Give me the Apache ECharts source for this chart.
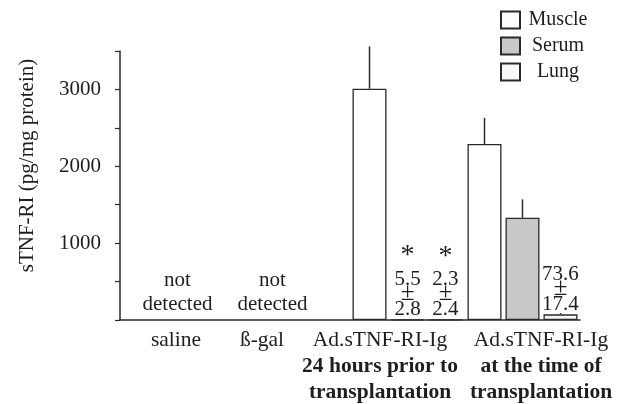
<!DOCTYPE html>
<html><head><meta charset="utf-8">
<script src="https://cdn.jsdelivr.net/npm/echarts@6/dist/echarts.min.js"></script>
<style>html,body{margin:0;padding:0;background:#fff}#c{width:624px;height:404px}</style>
</head><body><div id="c"></div>
<script>
// ---- data ----
const categories = [
  'saline',
  'ß-gal',
  'Ad.sTNF-RI-Ig\n24 hours prior to\ntransplantation',
  'Ad.sTNF-RI-Ig\nat the time of\ntransplantation'
];
const seriesNames = ['Muscle', 'Serum', 'Lung'];
const muscle = [null, null, 3010, 2290];
const serum = [null, null, 5.5, 1330];
const lung = [null, null, 2.3, 73.6];
const muscleErr = [null, null, 550, 340];
const serumErr = [null, null, 2.8, 240];
const lungErr = [null, null, 2.4, 17.4];
const serumSig = ['', '', '*', ''];
const lungSig = ['', '', '*', ''];
const yTickLabels = [1000, 2000, 3000];
const yAxisName = 'sTNF-RI (pg/mg protein)';
const notDetectedText = 'not\ndetected';

// ---- style ----
const FONT = 'Liberation Serif';
const INK = '#1e1e1e';
const LINE = '#2a2a2a';
const BAR_W = 34, BAR_GAP = 4;
const labelShift = [-1.5, -30.5, -27.5, 18.5];
const notDetShift = [0, -20, 0, 0];
const fills = ['#ffffff', '#c8c8c8', '#f7f7f7'];

const values = [muscle, serum, lung];
const errs = [muscleErr, serumErr, lungErr];
const sigs = [null, serumSig, lungSig];

const chart = echarts.init(document.getElementById('c'), null, {renderer: 'canvas'});

const barSeries = values.map((arr, k) => ({
  name: seriesNames[k],
  type: 'bar',
  barWidth: BAR_W,
  barGap: (BAR_GAP / BAR_W * 100).toFixed(2) + '%',
  itemStyle: {color: fills[k], borderColor: LINE, borderWidth: 1.3},
  emphasis: {disabled: true},
  data: arr.map((v, i) => ({
    value: v,
    label: {show: v != null && v < 100 && k > 0}
  })),
  label: {
    show: false,
    position: 'top',
    distance: 0,
    formatter: p => {
      const i = p.dataIndex;
      const s = sigs[k] && sigs[k][i] ? '{s|' + sigs[k][i] + '}\n' : '';
      return s + '{n1|' + p.value + '}\n{p|±}\n{n2|' + errs[k][i] + '}';
    },
    rich: {
      s: {fontFamily: FONT, fontSize: 28, lineHeight: 30, color: INK},
      n1: {fontFamily: FONT, fontSize: 21, lineHeight: 16, color: INK},
      p: {fontFamily: FONT, fontSize: 25, lineHeight: 12, color: INK},
      n2: {fontFamily: FONT, fontSize: 21, lineHeight: 20, color: INK}
    }
  }
}));

const errData = [];
values.forEach((arr, k) => arr.forEach((v, i) => {
  if (v != null && errs[k][i] != null) errData.push([i, v, errs[k][i], k]);
}));

const option = {
  backgroundColor: '#fff',
  animation: false,
  grid: {left: 120, right: 44, top: 51, bottom: 84},
  legend: {
    data: seriesNames,
    orient: 'vertical',
    left: 500, top: 10,
    padding: 0,
    itemWidth: 19, itemHeight: 17, itemGap: 6,
    icon: 'rect',
    selectedMode: false,
    formatter: n => '{t|' + n + '}',
    textStyle: {
      rich: {t: {fontFamily: FONT, fontSize: 20, lineHeight: 17, color: INK, width: 66, align: 'center'}}
    }
  },
  xAxis: {
    type: 'category',
    data: categories.map((c, i) => {
      const sh = labelShift[i];
      return {value: c, textStyle: {padding: sh >= 0 ? [0, 0, 0, 2 * sh] : [0, -2 * sh, 0, 0]}};
    }),
    axisLine: {lineStyle: {color: LINE, width: 1.5}},
    axisTick: {show: false},
    axisLabel: {
      interval: 0,
      margin: 7,
      formatter: v => v.split('\n').map((l, j) => (j === 0 ? '{a|' : '{b|') + l + '}').join('\n'),
      rich: {
        a: {fontFamily: FONT, fontSize: 21.5, lineHeight: 26, color: INK},
        b: {fontFamily: FONT, fontSize: 21.5, fontWeight: 'bold', lineHeight: 26, color: INK}
      }
    }
  },
  yAxis: {
    type: 'value',
    min: 0, max: 3500, interval: 500,
    name: yAxisName,
    nameLocation: 'middle',
    nameGap: 82,
    nameTextStyle: {fontFamily: FONT, fontSize: 21, color: INK, padding: [0, 0, 0, 40]},
    axisLine: {show: true, lineStyle: {color: LINE, width: 1.5}},
    axisTick: {show: true, length: 5, lineStyle: {color: LINE, width: 1.2}},
    splitLine: {show: false},
    axisLabel: {
      margin: 19,
      fontFamily: FONT, fontSize: 21, color: INK,
      formatter: v => yTickLabels.includes(v) ? String(v) : ''
    }
  },
  series: [
    ...barSeries,
    {
      type: 'custom',
      name: 'err',
      z: 5,
      encode: {x: 0, y: 1},
      renderItem: (params, api) => {
        const i = api.value(0), v = api.value(1), e = api.value(2), k = api.value(3);
        const b = api.coord([i, v]);
        const t = api.coord([i, v + e]);
        const dx = (k - 1) * (BAR_W + BAR_GAP);
        return {type: 'line', shape: {x1: b[0] + dx, y1: b[1], x2: b[0] + dx, y2: t[1]},
                style: {stroke: LINE, lineWidth: 1.5}};
      },
      data: errData
    },
    {
      type: 'scatter',
      name: 'nd',
      symbolSize: 1,
      silent: true,
      itemStyle: {opacity: 1, color: 'rgba(0,0,0,0)'},
      data: muscle.map((v, i) => v == null ? {value: [i, 0], label: {offset: [notDetShift[i], 0]}} : null).filter(d => d),
      label: {
        show: true,
        position: 'top',
        distance: 3,
        opacity: 1,
        formatter: () => notDetectedText,
        fontFamily: FONT, fontSize: 21, lineHeight: 24, color: INK, align: 'center'
      }
    }
  ]
};
chart.setOption(option);
</script>
</body></html>
